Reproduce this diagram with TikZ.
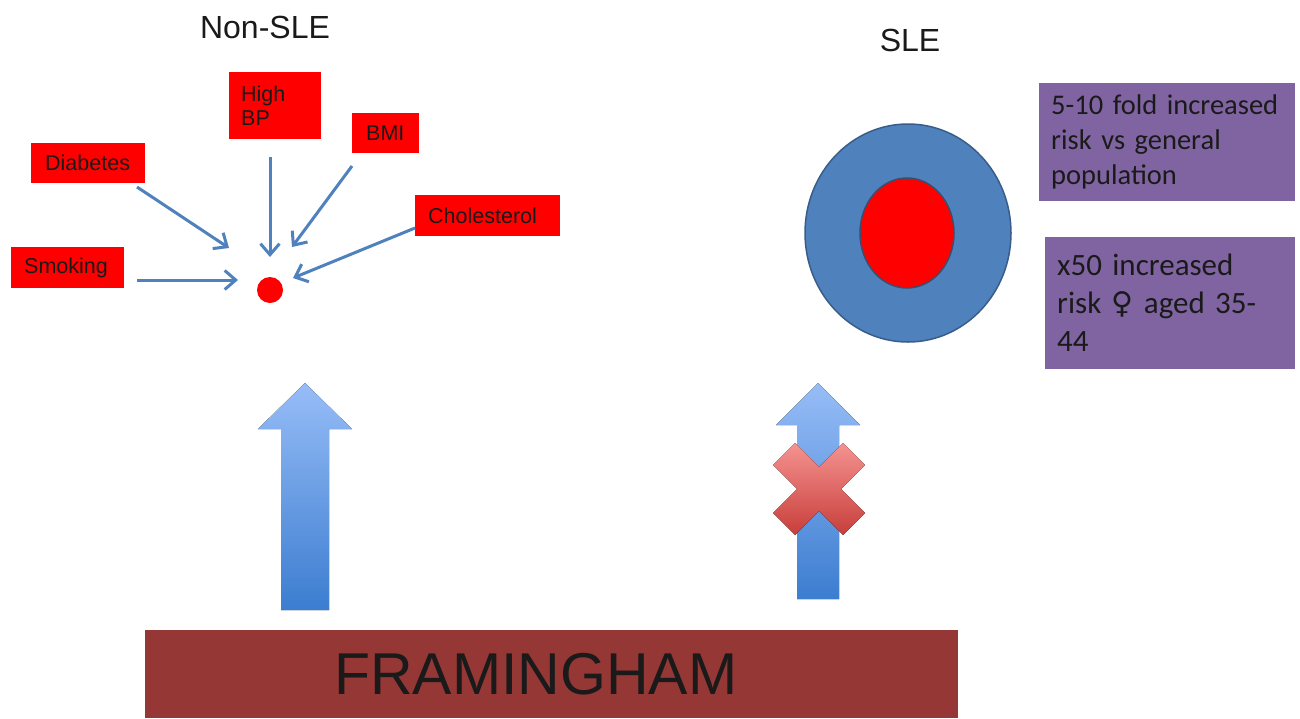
\documentclass[tikz,border=0pt]{standalone}
\usepackage{fontspec}
\setmainfont{Liberation Sans}
\newfontfamily\notefont{Carlito}
\newfontfamily\symfont{DejaVu Sans}
\usetikzlibrary{arrows.meta,shapes.geometric}

\definecolor{riskred}{HTML}{FF0000}
\definecolor{linkblue}{HTML}{4F81BD}
\definecolor{ringblue}{HTML}{4F81BD}
\definecolor{ringedge}{HTML}{385D8A}
\definecolor{coreedge}{HTML}{3A4F6E}
\definecolor{notepurple}{HTML}{8064A2}
\definecolor{barbrown}{HTML}{953735}
\definecolor{arrtop}{HTML}{97BDF7}
\definecolor{arrbot}{HTML}{3C7DD0}
\definecolor{crosstop}{HTML}{F59390}
\definecolor{crossbot}{HTML}{C73E3A}
\definecolor{ink}{HTML}{1A1A1A}

\begin{document}
\begin{tikzpicture}[x=1pt,y=-1pt,
  factor/.style={fill=riskred, inner xsep=14pt, inner ysep=0pt, align=left,
    text=ink, anchor=north west, font=\fontsize{21.5}{24}\selectfont},
  note/.style={fill=notepurple, inner xsep=13pt, inner ysep=0pt, align=left,
    text=ink, anchor=north west},
  link/.style={draw=linkblue, line width=3pt,
    -{Straight Barb[length=11pt,width=19pt]}},
  heading/.style={font=\fontsize{32}{36}\selectfont, text=ink},
  bigarrow/.style={top color=arrtop, bottom color=arrbot, draw=none},
]
\useasboundingbox (0,0) rectangle (1300,718);

% column headings
\node[heading] (nonsle) at (265,27) {Non-SLE};
\node[heading] (sle) at (910,40) {SLE};

% traditional risk factors
\node[factor, text width=86pt, minimum height=40pt] (diab) at (31,143) {Diabetes};
\node[factor, text width=87pt, minimum height=41pt, inner xsep=13pt] (smok) at (11,247) {Smoking};
\node[factor, minimum height=67pt, inner xsep=12pt, text width=68pt] (hbp) at (229,72) {High\\BP};
\node[factor, text width=39pt, minimum height=40pt] (bmi) at (352,113) {BMI};
\node[factor, text width=119pt, minimum height=41pt, inner xsep=13pt] (chol) at (415,195) {Cholesterol};

% resulting risk
\node[circle, fill=riskred, minimum size=26pt, inner sep=0pt] (core) at (270,290) {};

% connector end points around the risk dot
\coordinate (diabA) at (137,187);  \coordinate (diabB) at (229,248);
\coordinate (hbpA)  at (270,157);  \coordinate (hbpB)  at (270,257);
\coordinate (bmiA)  at (352,166);  \coordinate (bmiB)  at (292,247);
\coordinate (cholA) at (415,228);  \coordinate (cholB) at (293,278);
\coordinate (smokA) at (137,280);  \coordinate (smokB) at (238,280);
\draw[link] (diabA) -- (diabB);
\draw[link] (hbpA) -- (hbpB);
\draw[link] (bmiA) -- (bmiB);
\draw[link] (cholA) -- (cholB);
\draw[link] (smokA) -- (smokB);

% SLE risk target
\node[ellipse, fill=ringblue, draw=ringedge, line width=1.5pt,
  minimum width=206pt, minimum height=218pt, inner sep=0pt] (ring) at (908,233) {};
\node[ellipse, fill=riskred, draw=coreedge, line width=1.5pt,
  minimum width=94pt, minimum height=110pt, inner sep=0pt] (bull) at (907,233) {};

% notes
\node[note, text width=232pt, minimum height=118pt, inner xsep=12pt,
  font=\notefont\fontsize{28.5}{35}\selectfont] (note1) at (1039,83)
  {5-10 fold increased\\risk vs general\\population};
\node[note, text width=226pt, minimum height=132pt, inner xsep=12pt,
  font=\notefont\fontsize{31}{38}\selectfont] (note2) at (1045,237)
  {x50 increased\\risk {\symfont\fontsize{30}{38}\selectfont ♀} aged 35-\\44};

% Framingham arrows
\fill[bigarrow] (281,610) -- (281,429) -- (258,429) -- (305,383) -- (352,429)
  -- (329,429) -- (329,610) -- cycle;
\fill[bigarrow] (797,599) -- (797,425) -- (776,425) -- (818,383) -- (860,425)
  -- (839,425) -- (839,599) -- cycle;

% cross over the SLE arrow
\fill[top color=crosstop, bottom color=crossbot, shift={(819,489)}]
  (0,22) -- (24,46) -- (46,24) -- (22,0) -- (46,-24) -- (24,-46) -- (0,-22)
  -- (-24,-46) -- (-46,-24) -- (-22,0) -- (-46,24) -- (-24,46) -- cycle;

% Framingham bar
\node[fill=barbrown, minimum width=813pt, minimum height=88pt, inner sep=0pt,
  anchor=north west, label={[text=ink, xshift=-16pt,
  font=\fontsize{59}{70}\selectfont]center:FRAMINGHAM}] (fram) at (145,630) {};
\end{tikzpicture}
\end{document}
